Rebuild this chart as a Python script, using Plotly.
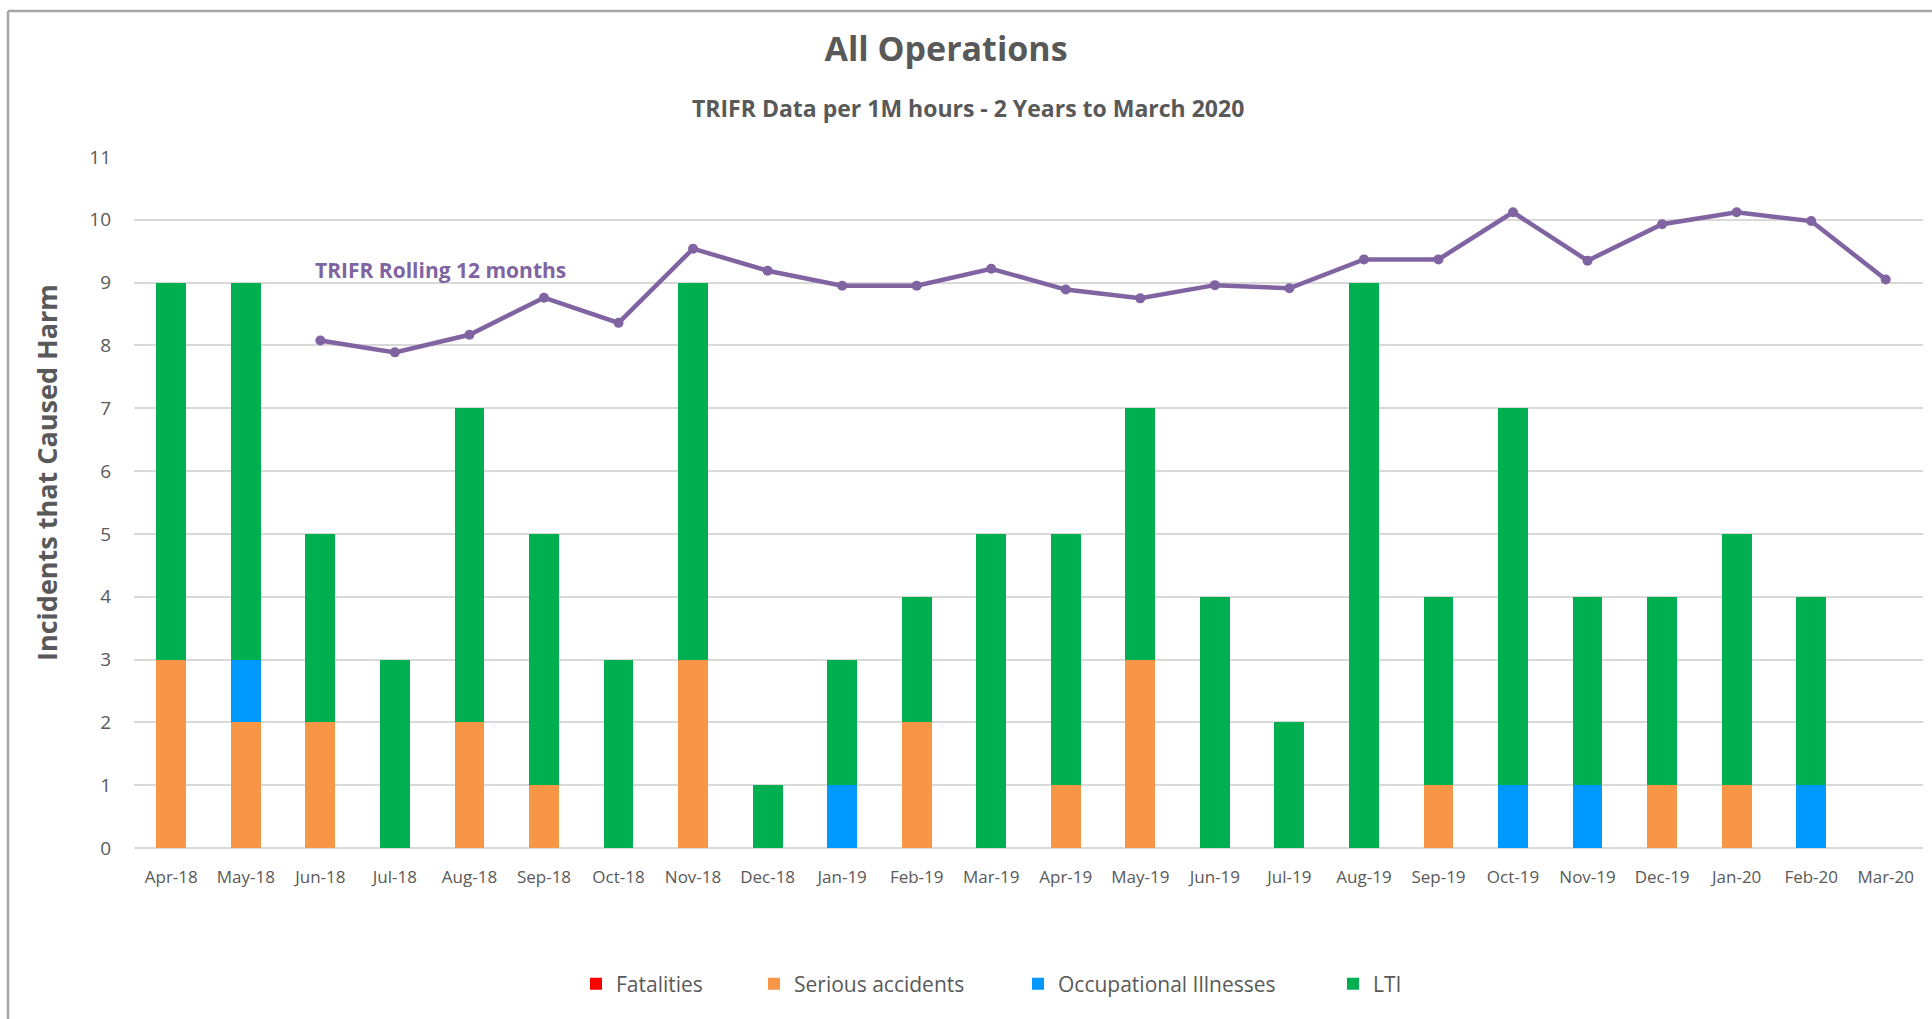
import plotly.graph_objects as go

months = ["Apr-18", "May-18", "Jun-18", "Jul-18", "Aug-18", "Sep-18", "Oct-18", "Nov-18",
          "Dec-18", "Jan-19", "Feb-19", "Mar-19", "Apr-19", "May-19", "Jun-19", "Jul-19",
          "Aug-19", "Sep-19", "Oct-19", "Nov-19", "Dec-19", "Jan-20", "Feb-20", "Mar-20"]

fatalities = [0, 0, 0, 0, 0, 0, 0, 0, 0, 0, 0, 0, 0, 0, 0, 0, 0, 0, 0, 0, 0, 0, 0, 0]
serious_accidents = [3, 2, 2, 0, 2, 1, 0, 3, 0, 0, 2, 0, 1, 3, 0, 0, 0, 1, 0, 0, 1, 1, 0, 0]
occupational_illnesses = [0, 1, 0, 0, 0, 0, 0, 0, 0, 1, 0, 0, 0, 0, 0, 0, 0, 0, 1, 1, 0, 0, 1, 0]
lti = [6, 6, 3, 3, 5, 4, 3, 6, 1, 2, 2, 5, 4, 4, 4, 2, 9, 3, 6, 3, 3, 4, 3, 0]
trifr_rolling = [None, None, 8.08, 7.89, 8.17, 8.76, 8.36, 9.54, 9.19, 8.95, 8.95, 9.22,
                 8.89, 8.75, 8.96, 8.91, 9.37, 9.37, 10.12, 9.35, 9.93, 10.12, 9.98, 9.05]

y_ticks = list(range(0, 12))

FONT = "Open Sans, Lato, Noto Sans, sans-serif"
GREY = "#595959"

fig = go.Figure()
series = [
    ("Fatalities", fatalities, "#FF0000", "legend"),
    ("Serious accidents", serious_accidents, "#F79646", "legend2"),
    ("Occupational Illnesses", occupational_illnesses, "#0099FF", "legend3"),
    ("LTI", lti, "#00B050", "legend4"),
]
for name, vals, col, leg in series:
    fig.add_trace(go.Bar(x=months, y=vals, name=name, marker=dict(color=col, line=dict(width=0)),
                         legend=leg))

fig.add_trace(go.Scatter(x=months, y=trifr_rolling, name="TRIFR Rolling 12 months",
                         mode="lines+markers", showlegend=False,
                         line=dict(color="#8064A2", width=4.5),
                         marker=dict(color="#8064A2", size=10)))

L, R, T, B = 134, 9, 157, 171
W, H = 1932, 1019
pw = W - L - R
ph = H - T - B

def px(xp):
    return (xp - L) / pw

def py(yp):
    return (H - B - yp) / ph

leg_common = dict(orientation="h", yanchor="middle", y=py(984), xanchor="left",
                  bgcolor="rgba(0,0,0,0)", font=dict(family=FONT, size=21, color=GREY),
                  itemwidth=30)

fig.update_layout(
    width=W, height=H,
    margin=dict(l=L, r=R, t=T, b=B, autoexpand=False),
    paper_bgcolor="white", plot_bgcolor="white",
    barmode="stack", bargap=0.6,
    font=dict(family=FONT, color=GREY),
    title=dict(text="<b>All Operations</b>", x=946 / W, xanchor="center",
               y=1 - 49 / H, yanchor="middle", automargin=False,
               font=dict(family=FONT, size=34, color=GREY)),
    legend=dict(leg_common, x=px(576)),
    legend2=dict(leg_common, x=px(754)),
    legend3=dict(leg_common, x=px(1018)),
    legend4=dict(leg_common, x=px(1333)),
    xaxis=dict(type="category", range=[-0.5, 23.5], showgrid=False, showline=False,
               zeroline=False, automargin=False,
               tickfont=dict(family=FONT, size=17, color=GREY), ticks="",
               ticklabelstandoff=17, fixedrange=True),
    yaxis=dict(range=[0, 11], tickvals=y_ticks, showgrid=True, gridcolor="#D9D9D9",
               gridwidth=1.5, zeroline=True, zerolinecolor="#D9D9D9", zerolinewidth=1.5,
               showline=False, ticks="", automargin=False, fixedrange=True,
               tickfont=dict(family=FONT, size=19, color=GREY), ticklabelstandoff=22),
    annotations=[
        dict(text="<b>TRIFR Data per 1M hours - 2 Years to March 2020</b>",
             xref="paper", yref="paper", x=px(968), y=py(108), xanchor="center",
             yanchor="middle", showarrow=False,
             font=dict(family=FONT, size=23, color=GREY)),
        dict(text="<b>TRIFR Rolling 12 months</b>", xref="paper", yref="paper",
             x=px(313), y=py(270), xanchor="left", yanchor="middle", showarrow=False,
             font=dict(family=FONT, size=21, color="#8064A2")),
        dict(text="<b>Incidents that Caused Harm</b>", xref="paper", yref="paper",
             x=px(46), y=py(473), xanchor="center", yanchor="middle", textangle=-90,
             showarrow=False, font=dict(family=FONT, size=27, color=GREY)),
    ],
    shapes=[
        dict(type="line", xref="paper", yref="paper", x0=px(8), x1=px(1932),
             y0=py(11), y1=py(11), line=dict(color="#A6A6A6", width=2.5)),
        dict(type="line", xref="paper", yref="paper", x0=px(8), x1=px(8),
             y0=py(11), y1=py(1019), line=dict(color="#A6A6A6", width=2.5)),
    ],
)

fig.write_html("out.html", config={"displayModeBar": False},
               post_script="document.body.style.margin='0';document.body.style.overflow='hidden';")
